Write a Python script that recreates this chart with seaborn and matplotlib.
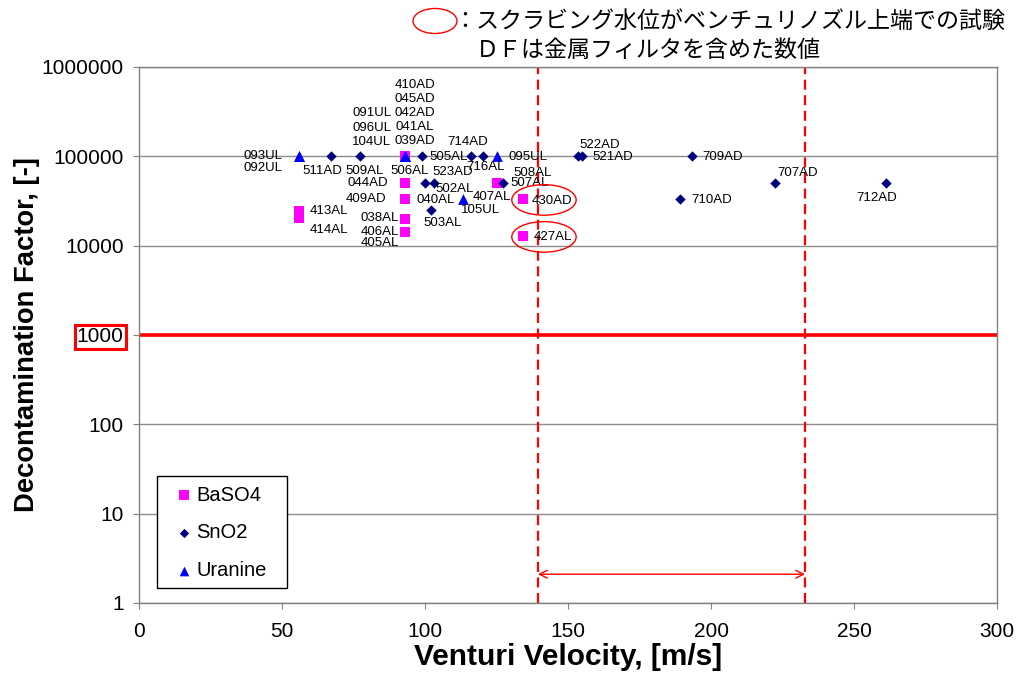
import numpy as np
import pandas as pd
import matplotlib
matplotlib.use("Agg")
from matplotlib import pyplot as plt
from matplotlib.patches import Ellipse, Rectangle
from matplotlib.ticker import NullLocator
import seaborn as sns

# ---- data ----
baso4_x = [93.0, 93.0, 93.0, 93.0, 93.0, 93.0, 93.0, 93.0, 93.0, 93.0, 93.0, 93.0,
           55.9, 55.9, 125.2, 125.2, 134.3, 134.3]
baso4_y = [1e5, 1e5, 1e5, 1e5, 1e5, 1e5, 5e4, 33000, 33000, 20000, 14200, 14200,
           24400, 20400, 5e4, 5e4, 33000, 12800]
baso4_labels = ["410AD", "045AD", "042AD", "041AL", "039AD", "506AL", "044AD", "409AD",
                "040AL", "038AL", "406AL", "405AL", "413AL", "414AL", "508AL", "407AL",
                "430AD", "427AL"]

sno2_x = [67.1, 77.3, 99.0, 116.1, 120.3, 100.0, 103.1, 102.0, 127.3, 153.5, 154.9,
          193.4, 189.2, 222.4, 261.2]
sno2_y = [1e5, 1e5, 1e5, 1e5, 1e5, 5e4, 5e4, 25000, 5e4, 1e5, 1e5, 1e5, 33000, 5e4, 5e4]
sno2_labels = ["511AD", "509AL", "505AL", "714AD", "716AL", "523AD", "502AL", "503AL",
               "507AL", "522AD", "521AD", "709AD", "710AD", "707AD", "712AD"]

uranine_x = [55.9, 55.9, 93.0, 93.0, 93.0, 113.3, 125.2]
uranine_y = [1e5, 1e5, 1e5, 1e5, 1e5, 33000, 1e5]
uranine_labels = ["093UL", "092UL", "091UL", "096UL", "104UL", "105UL", "095UL"]

ytick_values = [1, 10, 100, 1000, 10000, 100000, 1000000]
ytick_labels = ["1", "10", "100", "1000", "10000", "100000", "1000000"]
xtick_values = [0, 50, 100, 150, 200, 250, 300]

df_limit = 1000
range_lo, range_hi = 139.5, 232.9

note_line1 = "：スクラビング水位がベンチュリノズル上端での試験"
note_line2 = "ＤＦは金属フィルタを含めた数値"

# label offsets in pixels (layout only)
baso4_off = [(10, 71), (10, 57), (10, 43), (10, 29), (10, 15), (5, -15), (-37, 0),
             (-39, 0), (31, -1), (-25, 1), (-25, 0), (-25, -11), (30, 0), (30, -12),
             (36, 10), (-5, -14), (29, -2), (30, -1)]
sno2_off = [(-9, -15), (5, -15), (26, -1), (-3, 14), (3, -11), (28, 11), (21, -6),
            (12, -13), (27, 0), (22, 11), (31, -1), (31, -1), (32, -1), (23, 10), (-9, -15)]
uranine_off = [(-36, 0), (-36, -12), (-33, 43), (-33, 28), (-33, 14), (17, -11), (31, -1)]

sns.set_style("white")
plt.rcParams['font.family'] = ['Liberation Sans', 'Noto Sans CJK JP', 'DejaVu Sans']
plt.rcParams['text.color'] = 'black'
plt.rcParams['axes.labelcolor'] = 'black'
plt.rcParams['xtick.color'] = 'black'
plt.rcParams['ytick.color'] = 'black'

fig = plt.figure(figsize=(10.19, 6.74), dpi=100)
ax = fig.add_axes([139 / 1019, 1 - 603 / 674, 858 / 1019, 536 / 674])

series = [
    ("BaSO4", baso4_x, baso4_y, baso4_labels, baso4_off, "s", "#FF00FF", 55),
    ("SnO2", sno2_x, sno2_y, sno2_labels, sno2_off, "D", "#000080", 28),
    ("Uranine", uranine_x, uranine_y, uranine_labels, uranine_off, "^", "#0000FF", 60),
]

for name, xs, ys, labs, offs, mk, col, sz in series:
    d = pd.DataFrame({"x": xs, "y": ys})
    sns.scatterplot(data=d, x="x", y="y", marker=mk, color=col, s=sz,
                    edgecolor=col, linewidth=0, ax=ax, label=name, zorder=3)
    for xv, yv, lab, (dx, dy) in zip(xs, ys, labs, offs):
        ax.annotate(lab, (xv, yv), xytext=(dx, dy), textcoords="offset pixels",
                    ha="center", va="center", fontsize=9.5, color="black", zorder=4)

ax.set_yscale("log")
ax.set_ylim(1, 1e6)
ax.set_xlim(0, 300)
ax.set_yticks(ytick_values)
ax.set_yticklabels(ytick_labels)
ax.yaxis.set_minor_locator(NullLocator())
ax.set_xticks(xtick_values)
ax.tick_params(axis="both", labelsize=15, length=4, color="#808080", direction="out",
               left=True, bottom=True, labelcolor="black")
ax.tick_params(axis="y", pad=7)
ax.tick_params(axis="x", pad=10)

for yv in ytick_values:
    ax.axhline(yv, color="#8c8c8c", lw=1, zorder=1)
for sp in ax.spines.values():
    sp.set_color("#808080")
    sp.set_linewidth(1)

# highlight 1000
for t in ax.get_yticklabels():
    if t.get_text() == "1000":
        t.set_bbox(dict(facecolor="white", edgecolor="red", linewidth=2.2, pad=1.5))

ax.axhline(df_limit, color="red", lw=2.6, zorder=2)
ax.axvline(range_lo, color="red", lw=1.6, ls=(0, (4.5, 2.5)), zorder=2)
ax.axvline(range_hi, color="red", lw=1.6, ls=(0, (4.5, 2.5)), zorder=2)
ax.annotate("", xy=(range_hi, 2.1), xytext=(range_lo, 2.1),
            arrowprops=dict(arrowstyle="<->", color="red", lw=1, shrinkA=0, shrinkB=0,
                            mutation_scale=14))

# ellipses marking tests with scrubbing level at nozzle top
for cy in [0.752, 0.683]:
    ax.add_patch(Ellipse((0.472, cy), 0.075, 0.057, transform=ax.transAxes,
                         fill=False, edgecolor="red", lw=1, zorder=5))

ax.set_xlabel("Venturi Velocity, [m/s]", fontsize=21.5, fontweight="bold", labelpad=1)
ax.set_ylabel("Decontamination Factor, [-]", fontsize=19.7, fontweight="bold", labelpad=1)

# legend with a fixed box
ax.add_patch(Rectangle((0.021, 0.028), 0.1515, 0.209, transform=ax.transAxes,
                       facecolor="white", edgecolor="black", lw=1, zorder=6))
leg = ax.legend(loc="upper left", bbox_to_anchor=(0.0408, 0.2192), borderaxespad=0,
                fontsize=14.5, frameon=False, labelspacing=0.94, borderpad=0,
                handletextpad=0.1, handlelength=1.0, markerscale=0.9)
leg.set_zorder(7)

# note at top
fig.add_artist(Ellipse((435 / 1019, 1 - 21 / 674), 44 / 1019, 25 / 674,
                       transform=fig.transFigure, fill=False, edgecolor="red", lw=1))
fig.text(453 / 1019, 1 - 21 / 674, note_line1, fontsize=16.6, va="center", ha="left",
         family=["Noto Sans CJK JP", "DejaVu Sans"])
fig.text(476 / 1019, 1 - 50 / 674, note_line2, fontsize=16.6, va="center", ha="left",
         family=["Noto Sans CJK JP", "DejaVu Sans"])

fig.savefig("out.png", dpi=100)
